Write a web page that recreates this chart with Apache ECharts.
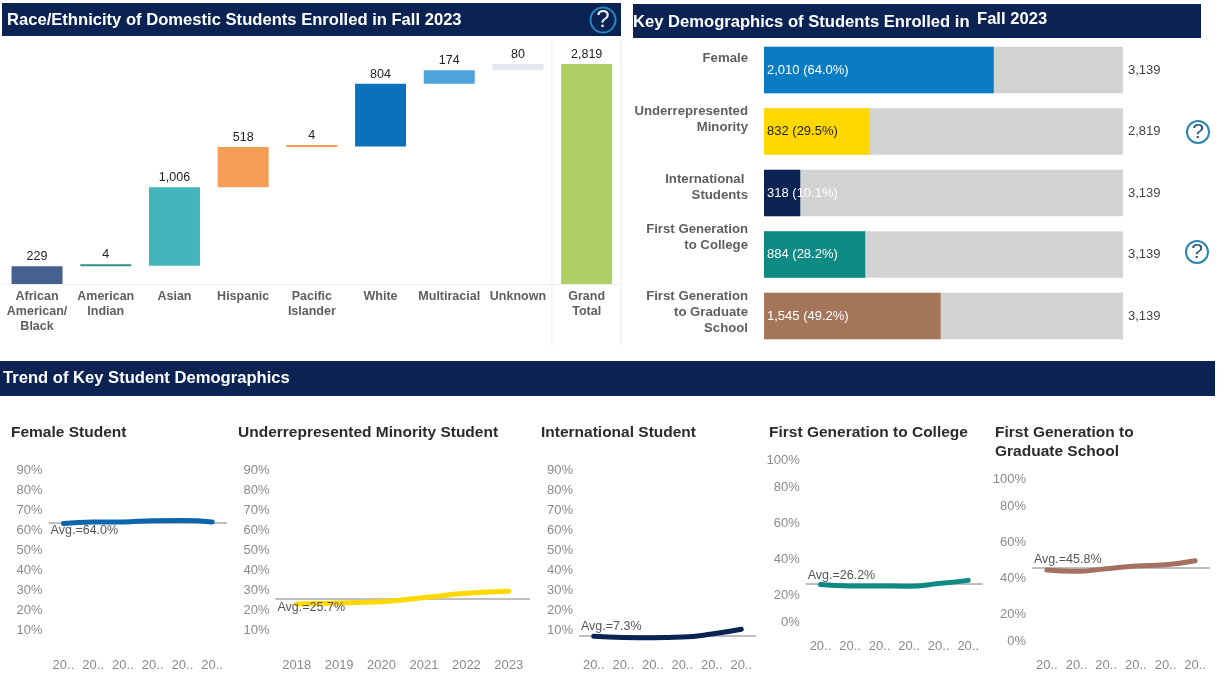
<!DOCTYPE html>
<html>
<head>
<meta charset="utf-8">
<style>
html, body { margin: 0; padding: 0; background: #fff; }
#main { width: 1225px; height: 676px; }
</style>
<script src="https://cdn.jsdelivr.net/npm/echarts@6/dist/echarts.min.js"></script>
</head>
<body>
<div id="main"></div>
<script>
var FONT = '"Liberation Sans", Arial, sans-serif';

//race/ethnicity waterfall
var raceNames = ['African\nAmerican/\nBlack', 'American\nIndian', 'Asian', 'Hispanic', 'Pacific\nIslander', 'White', 'Multiracial', 'Unknown', 'Grand\nTotal'];
var raceValues = [229, 4, 1006, 518, 4, 804, 174, 80, 2819];
var raceColors = ['#46608f', '#2f8f80', '#45b5bc', '#f59d56', '#f59d56', '#0a72bd', '#4fa3db', '#e3e8ee', '#aecf63'];

//key demographics
var demoNames = ['Female', 'Underrepresented\nMinority', 'International \nStudents', 'First Generation\nto College', 'First Generation\nto Graduate\nSchool'];
var demoCounts = [2010, 832, 318, 884, 1545];
var demoTotals = [3139, 2819, 3139, 3139, 3139];
var demoShares = [64.0, 29.5, 10.1, 28.2, 49.2];
var demoColors = ['#0a7cc4', '#ffd800', '#0a2352', '#0e8a84', '#a5755a'];
var demoLabelColors = ['#fff', '#222', '#fff', '#fff', '#fff'];
var demoLabelShift = [-12, -12, -6, -17, -4];

//trend
var years = ['2018', '2019', '2020', '2021', '2022', '2023'];
var femaleTrend = [63.4, 64.2, 64.2, 64.8, 64.9, 64.2];
var minorityTrend = [23.0, 23.6, 24.2, 26.3, 28.4, 29.4];
var internationalTrend = [6.9, 6.3, 6.2, 6.5, 8.0, 10.4];
var firstCollegeTrend = [26.0, 25.2, 25.2, 25.0, 26.5, 28.3];
var firstGradTrend = [44.4, 43.7, 45.2, 46.7, 47.4, 49.6];
var trendAverages = [64.0, 25.7, 7.3, 26.2, 45.8];

var panels = [
    { data: femaleTrend, color: '#0b66ae', left: 48.6, width: 178.4, top: 450.5, height: 199.5, ticks: 10, full: false, labelPos: 'insideStartBottom' },
    { data: minorityTrend, color: '#ffd800', left: 275.5, width: 254.5, top: 450.5, height: 199.5, ticks: 10, full: true, labelPos: 'insideStartBottom' },
    { data: internationalTrend, color: '#0a2352', left: 579, width: 177, top: 450.5, height: 199.5, ticks: 10, full: false, labelPos: 'insideStartTop' },
    { data: firstCollegeTrend, color: '#0e8a84', left: 805.7, width: 177.3, top: 451.3, height: 180, ticks: 20, full: false, labelPos: 'insideStartTop' },
    { data: firstGradTrend, color: '#a5705f', left: 1032, width: 178, top: 470, height: 180, ticks: 20, full: false, labelPos: 'insideStartTop' }
];

function num(v) {
    return v.toLocaleString('en-US');
}

function helpIcon(x, y, r, fill, stroke, color, size) {
    return [
        { type: 'circle', shape: { cx: x, cy: y, r: r }, style: { fill: fill, stroke: stroke, lineWidth: 2 }, z: 10 },
        { type: 'text', x: x, y: y, style: { text: '?', fill: color, font: size + 'px ' + FONT, align: 'center', verticalAlign: 'middle' }, z: 11 }
    ];
}

function band(x, y, w, h) {
    return { type: 'rect', shape: { x: x, y: y, width: w, height: h }, style: { fill: '#0a2352' }, z: 1 };
}

function heading(text, x, y, size, color) {
    return { type: 'text', x: x, y: y, style: { text: text, fill: color, font: 'bold ' + size + 'px ' + FONT, verticalAlign: 'middle', lineHeight: 19 }, z: 5 };
}

function vline(x, y1, y2) {
    return { type: 'line', shape: { x1: x, y1: y1, x2: x, y2: y2 }, style: { stroke: '#ececec', lineWidth: 1 }, z: 1 };
}

var grid = [], xAxis = [], yAxis = [], series = [];

function LoadRace() {
    var base = [], sum = 0;
    raceValues.forEach(function (v, i) {
        if (i === raceValues.length - 1) {
            base.push(0);
        } else {
            base.push(sum);
            sum += v;
        }
    });
    grid.push({ left: 2.7, top: 64, width: 618.3, height: 220 });
    xAxis.push({
        gridIndex: 0, type: 'category', data: raceNames,
        axisLine: { lineStyle: { color: '#eeeeee' } },
        axisTick: { show: false },
        axisLabel: { interval: 0, margin: 5, color: '#5f5f5f', fontFamily: FONT, fontSize: 12.5, fontWeight: 'bold', lineHeight: 15 }
    });
    yAxis.push({ gridIndex: 0, type: 'value', min: 0, max: 2819, show: false });
    series.push({
        type: 'bar', xAxisIndex: 0, yAxisIndex: 0, stack: 'race', silent: true, barWidth: 51,
        itemStyle: { color: 'transparent' }, data: base
    });
    series.push({
        type: 'bar', xAxisIndex: 0, yAxisIndex: 0, stack: 'race', silent: true, barWidth: 51, barMinHeight: 2,
        data: raceValues.map(function (v, i) {
            return { value: v, itemStyle: { color: raceColors[i] } };
        }),
        label: {
            show: true, position: 'top', distance: 3, color: '#222', fontFamily: FONT, fontSize: 12.5,
            formatter: function (p) { return num(p.value); }
        }
    });
}

function LoadDemographics() {
    grid.push({ left: 764, top: 39.2, width: 359, height: 307.5 });
    xAxis.push({ gridIndex: 1, type: 'value', min: 0, max: 100, show: false });
    yAxis.push({ gridIndex: 1, type: 'category', inverse: true, data: demoNames, show: false });
    series.push({
        type: 'bar', xAxisIndex: 1, yAxisIndex: 1, silent: true, barWidth: 46.5, barGap: '-100%',
        itemStyle: { color: '#d3d3d3' },
        data: demoTotals.map(function () { return 100; }),
        label: {
            show: true, position: 'right', distance: 5, color: '#444', fontFamily: FONT, fontSize: 13,
            formatter: function (p) { return num(demoTotals[p.dataIndex]); }
        }
    });
    series.push({
        type: 'bar', xAxisIndex: 1, yAxisIndex: 1, silent: true, barWidth: 46.5, barGap: '-100%',
        data: demoShares.map(function (v, i) {
            return { value: v, itemStyle: { color: demoColors[i] }, label: { color: demoLabelColors[i] } };
        }),
        label: {
            show: true, position: 'insideLeft', distance: 3, fontFamily: FONT, fontSize: 13,
            formatter: function (p) { return num(demoCounts[p.dataIndex]) + ' (' + demoShares[p.dataIndex].toFixed(1) + '%)'; }
        }
    });
    //row names sit at different heights in each row, so they are labels of an empty series
    series.push({
        type: 'bar', xAxisIndex: 1, yAxisIndex: 1, silent: true, barWidth: 46.5, barGap: '-100%',
        itemStyle: { color: 'transparent' },
        data: demoNames.map(function (n, i) {
            return { value: 0, label: { offset: [0, demoLabelShift[i]] } };
        }),
        label: {
            show: true, position: 'left', distance: 16, color: '#5f5f5f', fontFamily: FONT, fontSize: 13.2, fontWeight: 'bold',
            lineHeight: 16, align: 'right', formatter: '{b}'
        }
    });
}

function LoadTrends() {
    panels.forEach(function (p, i) {
        var idx = i + 2;
        grid.push({ left: p.left, top: p.top, width: p.width, height: p.height });
        xAxis.push({
            gridIndex: idx, type: 'category', data: years,
            axisLine: { show: false }, axisTick: { show: false },
            axisLabel: {
                interval: 0, margin: 9, color: '#8a8a8a', fontFamily: FONT, fontSize: 13,
                formatter: function (v) { return p.full ? v : v.substring(0, 2) + '..'; }
            }
        });
        yAxis.push({
            gridIndex: idx, type: 'value', min: 0, max: 100, interval: p.ticks,
            axisLine: { show: false }, axisTick: { show: false }, splitLine: { show: false },
            axisLabel: {
                margin: 6, color: '#8a8a8a', fontFamily: FONT, fontSize: 13,
                formatter: function (v) {
                    if (p.ticks === 10) {
                        return (v === 0 || v === 100) ? '' : v + '%';
                    }
                    if (v === 0) return '{low|0%}';
                    if (v === 100) return '{high|100%}';
                    return v + '%';
                },
                rich: {
                    low: { color: '#8a8a8a', fontFamily: FONT, fontSize: 13, padding: [0, 0, 18, 0] },
                    high: { color: '#8a8a8a', fontFamily: FONT, fontSize: 13, padding: [18, 0, 0, 0] }
                }
            }
        });
        //average rule goes under the trend line, its text goes over it
        series.push({
            type: 'line', xAxisIndex: idx, yAxisIndex: idx, silent: true, z: 3, data: p.data, smooth: true, showSymbol: false,
            lineStyle: { color: p.color, width: 5, cap: 'round' },
            markLine: {
                silent: true, symbol: 'none', animation: false, z: 1,
                lineStyle: { color: '#aaa', width: 1.5, type: 'solid' },
                label: { show: false },
                data: [{ yAxis: trendAverages[i] }]
            }
        });
        series.push({
            type: 'line', xAxisIndex: idx, yAxisIndex: idx, silent: true, z: 5, data: p.data, showSymbol: false,
            lineStyle: { opacity: 0 },
            markLine: {
                silent: true, symbol: 'none', animation: false, z: 6,
                lineStyle: { opacity: 0 },
                label: {
                    opacity: 1, position: p.labelPos, distance: [2, 2], color: '#555', fontFamily: FONT, fontSize: 12.5,
                    formatter: 'Avg.=' + trendAverages[i].toFixed(1) + '%'
                },
                data: [{ yAxis: trendAverages[i] }]
            }
        });
    });
}

LoadRace();
LoadDemographics();
LoadTrends();

var graphics = [
    band(2, 3, 619, 33),
    band(633, 4, 568, 34),
    band(0, 361, 1215, 35),
    vline(552, 40, 345),
    vline(621, 40, 345),
    heading('Race/Ethnicity of Domestic Students Enrolled in Fall 2023', 7, 20, 16.6, '#fff'),
    heading('Key Demographics of Students Enrolled in', 633, 22, 16.6, '#fff'),
    heading('Fall 2023', 977, 19, 16.6, '#fff'),
    heading('Trend of Key Student Demographics', 3, 378, 16.6, '#fff'),
    heading('Female Student', 11, 433, 15.5, '#2b2b2b'),
    heading('Underrepresented Minority Student', 238, 433, 15.5, '#2b2b2b'),
    heading('International Student', 541, 433, 15.5, '#2b2b2b'),
    heading('First Generation to College', 769, 433, 15.5, '#2b2b2b'),
    heading('First Generation to\nGraduate School', 995, 442.5, 15.5, '#2b2b2b')
];
graphics = graphics
    .concat(helpIcon(603, 20, 12.5, '#0a2352', '#2a86c0', '#e8f2fa', 24))
    .concat(helpIcon(1198, 132, 11, '#fff', '#2a86b0', '#1d4f78', 21))
    .concat(helpIcon(1197, 252, 11, '#fff', '#2a86b0', '#1d4f78', 21));

var myChart = echarts.init(document.getElementById('main'), null, { renderer: 'canvas' });
myChart.setOption({
    animation: false,
    backgroundColor: '#fff',
    tooltip: { show: false },
    legend: { show: false },
    grid: grid,
    xAxis: xAxis,
    yAxis: yAxis,
    series: series,
    graphic: graphics
});
</script>
</body>
</html>
